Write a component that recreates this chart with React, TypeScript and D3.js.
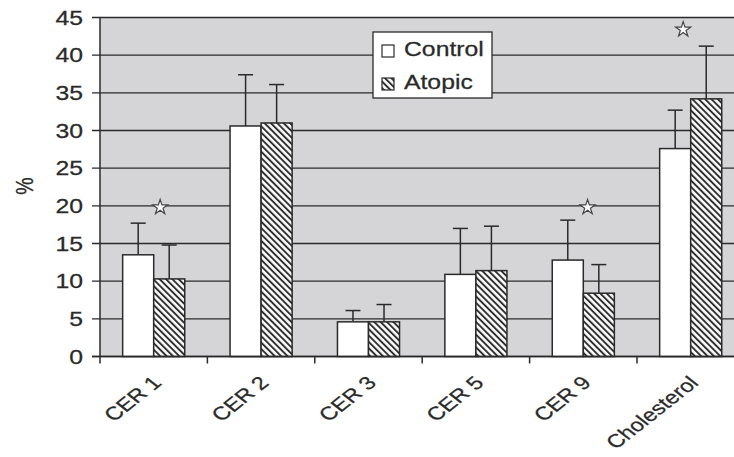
import React from "react";
import { scaleBand, scaleLinear, symbol, symbolStar } from "d3";

const categories = ["CER 1", "CER 2", "CER 3", "CER 5", "CER 9", "Cholesterol"];
const groups = ["Control", "Atopic"];
const controlMean = [13.5, 30.6, 4.6, 10.9, 12.8, 27.6];
const controlSD = [4.2, 6.8, 1.5, 6.1, 5.3, 5.1];
const atopicMean = [10.3, 31.0, 4.6, 11.4, 8.4, 34.2];
const atopicSD = [4.5, 5.1, 2.3, 5.9, 3.8, 7.0];
const starCategories = ["CER 1", "CER 9", "Cholesterol"];
const starValues = [19.8, 19.8, 43.4];
const starPos = [0.56, 0.54, 0.43];
const yTicks = [0, 5, 10, 15, 20, 25, 30, 35, 40, 45];

const width = 734,
  height = 457;
const margin = { top: 17.5, left: 100, bottom: 356.5, right: 744.4 };
const font = "'Liberation Sans', Arial, sans-serif";
const ink = "#2a2a2a";
const stretch = 1.27; // the reference's lettering is wide

function Label({ x, y, rotate = 0, anchor = "start", dy = "0", size = 19.5, children }: any) {
  return (
    <text
      transform={`translate(${x},${y}) scale(${stretch},1) rotate(${rotate})`}
      textAnchor={anchor}
      dy={dy}
      fontSize={size}
      fill={ink}
      stroke={ink}
      strokeWidth={0.25}
    >
      {children}
    </text>
  );
}

export default function App() {
  const x = scaleBand<string>()
    .domain(categories)
    .range([margin.left, margin.right])
    .paddingInner(0)
    .paddingOuter(0);

  const xSub = scaleBand<string>()
    .domain(groups)
    .range([0, x.bandwidth()])
    .paddingInner(0)
    .paddingOuter(0.73);

  const y = scaleLinear().domain([0, 45]).range([margin.bottom, margin.top]);

  const star = symbol().type(symbolStar).size(70)();

  const series = [
    { name: "Control", mean: controlMean, sd: controlSD, fill: "#fff" },
    { name: "Atopic", mean: atopicMean, sd: atopicSD, fill: "url(#hatch)" }
  ];

  const boundaries = categories.map(c => x(c) as number).concat([margin.right]);

  return (
    <svg
      width={width}
      height={height}
      style={{ position: "absolute", left: 0, top: 0, background: "#fff" }}
      fontFamily={font}
    >
      <defs>
        <pattern
          id="hatch"
          patternUnits="userSpaceOnUse"
          width={4.5}
          height={4.5}
          patternTransform="rotate(-45)"
        >
          <rect width={4.5} height={4.5} fill="#fff" />
          <line x1={1} y1={0} x2={1} y2={4.5} stroke={ink} strokeWidth={1.9} />
        </pattern>
      </defs>

      {/* plot background */}
      <rect
        x={margin.left}
        y={margin.top}
        width={margin.right - margin.left}
        height={margin.bottom - margin.top}
        fill="#d5d5d7"
      />

      {/* gridlines + y ticks */}
      {yTicks.map(t => (
        <g key={t}>
          <line
            x1={margin.left - 8}
            x2={margin.right}
            y1={y(t)}
            y2={y(t)}
            stroke={ink}
            strokeWidth={1.3}
          />
          <Label x={83} y={y(t)} anchor="end" dy="0.36em">
            {t}
          </Label>
        </g>
      ))}

      {/* y axis line */}
      <line
        x1={margin.left}
        x2={margin.left}
        y1={margin.top}
        y2={margin.bottom}
        stroke={ink}
        strokeWidth={1.5}
      />

      {/* x ticks */}
      {boundaries.map((b, i) => (
        <line
          key={i}
          x1={b}
          x2={b}
          y1={margin.bottom}
          y2={margin.bottom + 7}
          stroke={ink}
          strokeWidth={1.5}
        />
      ))}

      {/* bars + error bars */}
      {series.map(s =>
        categories.map((c, i) => {
          const bx = (x(c) as number) + (xSub(s.name) as number);
          const bw = xSub.bandwidth();
          const cx = bx + bw / 2;
          const top = y(s.mean[i]);
          const errTop = y(s.mean[i] + s.sd[i]);
          return (
            <g key={s.name + c}>
              <line x1={cx} x2={cx} y1={top} y2={errTop} stroke={ink} strokeWidth={1.5} />
              <line
                x1={cx - 7.5}
                x2={cx + 7.5}
                y1={errTop}
                y2={errTop}
                stroke={ink}
                strokeWidth={1.5}
              />
              <rect
                x={bx}
                y={top}
                width={bw}
                height={margin.bottom - top}
                fill={s.fill}
                stroke={ink}
                strokeWidth={1.5}
              />
            </g>
          );
        })
      )}

      {/* x axis line */}
      <line
        x1={margin.left - 8}
        x2={margin.right}
        y1={margin.bottom}
        y2={margin.bottom}
        stroke={ink}
        strokeWidth={1.5}
      />

      {/* significance stars */}
      {starCategories.map((c, i) => (
        <path
          key={c}
          d={star as string}
          transform={`translate(${(x(c) as number) + x.bandwidth() * starPos[i]},${y(
            starValues[i]
          )})`}
          fill="#fff"
          stroke="#444"
          strokeWidth={1.2}
        />
      ))}

      {/* x labels */}
      {categories.map(c => (
        <Label
          key={c}
          x={(x(c) as number) + x.bandwidth() / 2 + 9}
          y={384}
          rotate={-45}
          anchor="end"
          size={18.5}
        >
          {c}
        </Label>
      ))}

      {/* y label */}
      <Label x={33} y={186} rotate={-90} anchor="middle">
        %
      </Label>

      {/* legend */}
      <g>
        <rect x={373} y={32} width={119} height={66} fill="#fff" stroke={ink} strokeWidth={1.3} />
        {series.map((s, i) => (
          <g key={s.name}>
            <rect
              x={382}
              y={45 + i * 33}
              width={12}
              height={12}
              fill={s.fill}
              stroke={ink}
              strokeWidth={1.2}
            />
            <Label x={404} y={56 + i * 33}>
              {s.name}
            </Label>
          </g>
        ))}
      </g>
    </svg>
  );
}
